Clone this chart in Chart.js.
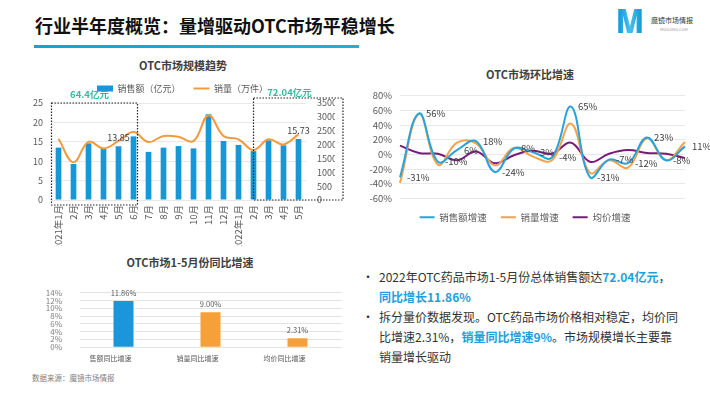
<!DOCTYPE html>
<html lang="zh">
<head>
<meta charset="utf-8">
<title>行业半年度概览</title>
<script src="https://cdn.jsdelivr.net/npm/chart.js@4.4.1/dist/chart.umd.min.js"></script>
<style>
  html, body { margin: 0; padding: 0; }
  body { width: 710px; height: 399px; position: relative; overflow: hidden; background: #fff;
         font-family: "Noto Sans CJK SC", sans-serif; color: #333; }
  .abs { position: absolute; white-space: nowrap; }
  .page-title { left: 35px; top: 11px; font-size: 18px; font-weight: bold; color: #111; line-height: 28px; }
  .title-bar { left: 34px; top: 45px; width: 325px; height: 3px; background: linear-gradient(90deg, #189fdb, #2aa9e0); }
  .logo-m { left: 616px; top: 0px; font: 800 34px/40px "Open Sans", sans-serif; color: #1ea6e0;
            background: linear-gradient(90deg, #0f8fd0, #45c1ee, #0f8fd0); -webkit-background-clip: text; background-clip: text;
            -webkit-text-fill-color: transparent; transform: scaleX(0.85); transform-origin: left; }
  .logo-name { left: 651px; top: 15px; font-size: 7px; line-height: 10px; color: #333; }
  .logo-url { left: 660px; top: 27px; font-size: 4px; line-height: 5px; color: #999; }
  .chart-title { font-size: 11px; font-weight: bold; color: #404040; text-align: center; width: 200px; line-height: 16px; }
  .notes { left: 379px; top: 267px; font-size: 12px; line-height: 20px; color: #333; }
  .notes .item { position: relative; }
  .notes .dot { position: absolute; left: -17px; }
  .hl { color: #1ea0dc; font-weight: bold; }
  .source { left: 32px; top: 372px; font-size: 7.5px; line-height: 12px; color: #808080; }
  canvas { position: absolute; }
</style>
</head>
<body>
<div class="abs page-title">行业半年度概览：量增驱动OTC市场平稳增长</div>
<div class="abs title-bar"></div>
<div class="abs logo-m">M</div>
<div class="abs logo-name">魔镜市场情报</div>
<div class="abs logo-url">MOOJING.COM</div>

<div class="abs chart-title" style="left:83px; top:57px;">OTC市场规模趋势</div>
<div class="abs chart-title" style="left:430px; top:66px;">OTC市场环比增速</div>
<div class="abs chart-title" style="left:90px; top:254px;">OTC市场1-5月份同比增速</div>

<canvas id="size-chart" style="left:0; top:52px; width:350px; height:194px;"></canvas>
<canvas id="mom-chart" style="left:355px; top:82px; width:355px; height:150px;"></canvas>
<canvas id="yoy-chart" style="left:0; top:270px; width:350px; height:100px;"></canvas>

<div class="abs notes">
  <div class="item"><span class="dot">•</span>2022年OTC药品市场1-5月份总体销售额达<span class="hl">72.04亿元</span>，<br><span class="hl">同比增长11.86%</span></div>
  <div class="item"><span class="dot">•</span>拆分量价数据发现。OTC药品市场价格相对稳定，均价同<br>比增速2.31%，<span class="hl">销量同比增速9%</span>。市场规模增长主要靠<br>销量增长驱动</div>
</div>
<div class="abs source">数据来源：魔镜市场情报</div>

<script>
// market size (left top)
const months = ['2021年1月', '2月', '3月', '4月', '5月', '6月', '7月', '8月', '9月', '10月', '11月', '12月',
                '2022年1月', '2月', '3月', '4月', '5月'];
const salesAmount = [13.5, 9.3, 14.6, 13.2, 13.85, 16.4, 12.4, 13.5, 13.9, 13.3, 22.1, 15.2,
                     14.2, 12.6, 15.4, 14.1, 15.73];
const salesVolume = [2210, 1360, 2100, 1860, 2130, 2450, 2090, 2310, 2280, 2125, 3060, 2310,
                     2190, 1800, 2190, 2005, 2370];
const labelledBars = [4, 16];
const boxNotes = ['64.4亿元', '72.04亿元'];

// month on month growth (right top), %
const momMonths = ['2021年2月', '3月', '4月', '5月', '6月', '7月', '8月', '9月', '10月', '11月', '12月',
                   '2022年1月', '2月', '3月', '4月', '5月'];
const momSales = [-31, 56, -10, 6, 18, -24, 8, 3, -4, 65, -31, -7, -12, 23, -8, 11];
const momVolume = [-39, 55, -14, 16, 15, -15, 9, -3, -8, 42, -25, -8, -18, 22, -8, 17];
const momPrice = [12, 2, 1, -8, 4, -12, -1, 5, 1, 16, -10, 1, 6, 2, 1, -5];

// year on year growth Jan-May (left bottom), %
const yoyLabels = ['售额同比增速', '销量同比增速', '均价同比增速'];
const yoyValues = [11.86, 9.00, 2.31];

Chart.defaults.font.family = '"Noto Sans CJK SC", sans-serif';
Chart.defaults.color = '#595959';
Chart.defaults.animation = false;

const BLUE = '#1597d8';
const ORANGE = '#f29b3d';

// legend with a box for bars and a short stroke for lines
function lineLegend(chart) {
  return chart.data.datasets.map((ds, i) => ({
    text: ds.label,
    fillStyle: ds.type === 'bar' ? ds.backgroundColor : ds.borderColor,
    strokeStyle: ds.borderColor || ds.backgroundColor,
    lineWidth: ds.type === 'bar' ? 0 : 2,
    pointStyle: ds.type === 'bar' ? 'rect' : 'line',
    hidden: !chart.isDatasetVisible(i),
    datasetIndex: i,
    fontColor: '#595959'
  }));
}

// dotted boxes around Jan-May and the totals above them
const boxPlugin = {
  id: 'boxes',
  afterDraw(chart) {
    const { ctx, scales: { x, y }, chartArea } = chart;
    ctx.save();
    ctx.setLineDash([1.5, 1.5]);
    ctx.strokeStyle = '#222';
    ctx.lineWidth = 1.2;
    const t1 = y.getPixelForValue(25);
    const l1 = x.getPixelForValue(0) - 7, r1 = x.getPixelForValue(5) + 4;
    ctx.strokeRect(l1, t1, r1 - l1, chartArea.bottom + 5 - t1);
    const t2 = t1 - 5;
    const l2 = x.getPixelForValue(13), r2 = chartArea.right + 37;
    ctx.strokeRect(l2, t2, r2 - l2, chartArea.bottom - t2);
    ctx.setLineDash([]);
    ctx.fillStyle = '#33bba4';
    ctx.font = 'bold 9.5px "Noto Sans CJK SC", sans-serif';
    ctx.textAlign = 'center';
    ctx.textBaseline = 'middle';
    ctx.fillText(boxNotes[0], l1 + 38, t1 - 9);
    ctx.fillText(boxNotes[1], l2 + 36, t2 - 6);

    // values over the two May bars
    const meta = chart.getDatasetMeta(0);
    ctx.fillStyle = '#404040';
    ctx.font = '9px "Noto Sans CJK SC", sans-serif';
    ctx.textBaseline = 'bottom';
    labelledBars.forEach(function (i) {
      const bar = meta.data[i];
      ctx.fillText(salesAmount[i].toFixed(2), bar.x, bar.y - 4);
    });
    ctx.restore();
  }
};

new Chart(document.getElementById('size-chart'), {
  data: {
    labels: months,
    datasets: [{
      type: 'bar',
      label: '销售额（亿元）',
      data: salesAmount,
      backgroundColor: BLUE,
      barPercentage: 0.38,
      categoryPercentage: 1,
      yAxisID: 'y',
      order: 2
    }, {
      type: 'line',
      label: '销量（万件）',
      data: salesVolume,
      borderColor: ORANGE,
      borderWidth: 2,
      pointRadius: 0,
      tension: 0.4,
      yAxisID: 'y1',
      order: 1
    }]
  },
  options: {
    responsive: false,
    layout: { padding: { left: 30, right: 15, top: 19, bottom: 0 } },
    plugins: {
      legend: {
        position: 'top',
        labels: {
          usePointStyle: true, pointStyleWidth: 16, boxHeight: 6, padding: 13,
          font: { size: 9 }, color: '#595959', generateLabels: lineLegend
        }
      },
      tooltip: { enabled: false }
    },
    scales: {
      x: {
        grid: { display: false, drawTicks: false },
        border: { display: false },
        ticks: { minRotation: 90, maxRotation: 90, autoSkip: false, padding: 5, font: { size: 9.5 }, color: '#595959' },
        afterFit(scale) { scale.height = 46; }
      },
      y: {
        position: 'left', min: 0, max: 25,
        ticks: { stepSize: 5, padding: 8, autoSkip: false, font: { size: 9 }, color: '#595959' },
        grid: { color: '#e8e8e8', drawTicks: false },
        border: { display: false },
        afterFit(scale) { scale.width = 21; }
      },
      y1: {
        position: 'right', min: 0, max: 3500,
        ticks: { stepSize: 500, padding: 11, autoSkip: false, font: { size: 9 }, color: '#595959', callback: v => String(v) },
        grid: { display: false, drawTicks: false },
        border: { display: false },
        afterFit(scale) { scale.width = 29; }
      }
    }
  },
  plugins: [boxPlugin]
});

// percentage labels to the right of sales growth points
const momLabelPlugin = {
  id: 'momLabels',
  afterDatasetsDraw(chart) {
    const { ctx } = chart;
    const meta = chart.getDatasetMeta(0);
    ctx.save();
    ctx.fillStyle = '#404040';
    ctx.font = '9.5px "Noto Sans CJK SC", sans-serif';
    ctx.textAlign = 'left';
    ctx.textBaseline = 'middle';
    meta.data.forEach(function (pt, i) {
      ctx.fillText(momSales[i] + '%', pt.x + 7, pt.y);
    });
    ctx.restore();
  }
};

new Chart(document.getElementById('mom-chart'), {
  type: 'line',
  data: {
    labels: momMonths,
    datasets: [
      { label: '销售额增速', data: momSales, borderColor: '#29a3dc', borderWidth: 2, pointRadius: 0, tension: 0.4 },
      { label: '销量增速', data: momVolume, borderColor: '#f4a24b', borderWidth: 2, pointRadius: 0, tension: 0.4 },
      { label: '均价增速', data: momPrice, borderColor: '#7a1a7a', borderWidth: 2, pointRadius: 0, tension: 0.4 }
    ]
  },
  options: {
    responsive: false,
    layout: { padding: { left: 10, right: 25, top: 11, bottom: 0 } },
    plugins: {
      legend: {
        position: 'bottom',
        labels: {
          usePointStyle: true, pointStyleWidth: 15, padding: 14,
          font: { size: 9.5 }, color: '#595959', generateLabels: lineLegend
        }
      },
      tooltip: { enabled: false }
    },
    scales: {
      x: { display: false },
      y: {
        min: -60, max: 80,
        ticks: { stepSize: 20, padding: 8, autoSkip: false, font: { size: 9.5 }, color: '#595959', callback: v => v + '%' },
        grid: { color: '#e8e8e8', drawTicks: false },
        border: { display: false },
        afterFit(scale) { scale.width = 35; }
      }
    }
  },
  plugins: [momLabelPlugin]
});

// value labels over the yoy bars
const yoyLabelPlugin = {
  id: 'yoyLabels',
  afterDatasetsDraw(chart) {
    const { ctx } = chart;
    const meta = chart.getDatasetMeta(0);
    ctx.save();
    ctx.fillStyle = '#595959';
    ctx.font = '7.5px "Noto Sans CJK SC", sans-serif';
    ctx.textAlign = 'center';
    ctx.textBaseline = 'bottom';
    meta.data.forEach(function (bar, i) {
      ctx.fillText(yoyValues[i].toFixed(2) + '%', bar.x, bar.y - 4);
    });
    ctx.restore();
  }
};

new Chart(document.getElementById('yoy-chart'), {
  type: 'bar',
  data: {
    labels: yoyLabels,
    datasets: [{
      label: '同比增速',
      data: yoyValues,
      backgroundColor: ['#1b96db', '#f7a03a', '#f7a03a'],
      barPercentage: 0.23,
      categoryPercentage: 1
    }]
  },
  options: {
    responsive: false,
    layout: { padding: { left: 40, right: 9, top: 9, bottom: 0 } },
    plugins: { legend: { display: false }, tooltip: { enabled: false } },
    scales: {
      x: {
        grid: { display: false, drawTicks: false },
        border: { display: false },
        ticks: { labelOffset: -13, padding: 7, font: { size: 7 }, color: '#595959' },
        afterFit(scale) { scale.height = 21; }
      },
      y: {
        min: 0, max: 14,
        ticks: { stepSize: 2, padding: 18, autoSkip: false, font: { size: 8 }, color: '#7f7f7f', callback: v => v + '%' },
        grid: { color: '#e3e3e3', drawTicks: false },
        border: { display: false },
        afterFit(scale) { scale.width = 40; }
      }
    }
  },
  plugins: [yoyLabelPlugin]
});
</script>
</body>
</html>
